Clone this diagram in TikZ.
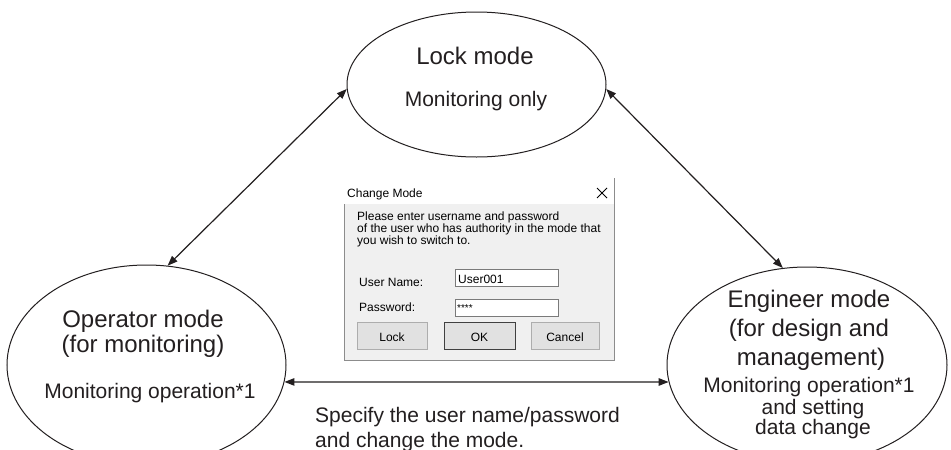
\documentclass[tikz,border=0pt]{standalone}
\usepackage{fontspec}
\setmainfont{Liberation Sans}
\usetikzlibrary{shapes.geometric,arrows.meta}
\definecolor{txt}{HTML}{231F20}
\definecolor{dlgbg}{HTML}{F0F0F0}
\definecolor{dlgborder}{HTML}{8C8C8C}
\definecolor{btnfill}{HTML}{E1E1E1}
\definecolor{btnborder}{HTML}{ADADAD}
\definecolor{boxborder}{HTML}{7A7A7A}
\begin{document}
\begin{tikzpicture}[x=1pt,y=-1pt,
  mode/.style={draw=txt, line width=1pt, ellipse, inner sep=0pt},
  big/.style={anchor=base, text=txt, inner sep=0pt, font=\fontsize{24}{28}\selectfont},
  small/.style={anchor=base, text=txt, inner sep=0pt, font=\fontsize{21}{24}\selectfont},
  note/.style={anchor=base west, text=txt, inner sep=0pt, font=\fontsize{21}{24}\selectfont},
  link/.style={draw=txt, line width=1.2pt, {Triangle[length=10pt,width=7.5pt]}-{Triangle[length=10pt,width=7.5pt]}},
  dlg/.style={anchor=base west, inner sep=0pt, font=\fontsize{12}{13}\selectfont},
  btnlabel/.style={anchor=base, inner sep=0pt, font=\fontsize{12}{13}\selectfont},
  btn/.style={draw=btnborder, fill=btnfill, line width=0.8pt},
  field/.style={draw=boxborder, fill=white, line width=0.8pt},
]
\useasboundingbox (0,0) rectangle (951,450);
\clip (0,0) rectangle (951,450);
\fill[white] (0,0) rectangle (951,450);

% mode ellipses
\node[mode, minimum width=259pt, minimum height=145pt] (lock) at (476.5,84.5) {};
\node[mode, minimum width=279pt, minimum height=200pt] (op) at (146.5,365) {};
\node[mode, minimum width=280pt, minimum height=196pt] (eng) at (807,365) {};

% connectors
\draw[link] (lock.182.4) -- (op.78);
\draw[link] (lock.358) -- (eng.104);
\draw[link] (op.-7.5) -- (eng.187.5);

% ellipse texts
\node[big]   (lockT) at (475,64)  {Lock mode};
\node[small] (lockD) at (476,106) {Monitoring only};

\node[big]   (opT1) at (143,327) {Operator mode};
\node[big]   (opT2) at (143,352) {(for monitoring)};
\node[small] (opD)  at (150,398) {Monitoring operation*1};

\node[big]   (engT1) at (809,307) {Engineer mode};
\node[big]   (engT2) at (809,336) {(for design and};
\node[big]   (engT3) at (811,365) {management)};
\node[small] (engD1) at (809,392) {Monitoring operation*1};
\node[small] (engD2) at (813,414) {and setting};
\node[small] (engD3) at (813,434) {data change};

% bottom label
\node[note] (spec1) at (315,422) {Specify the user name/password};
\node[note] (spec2) at (315,447) {and change the mode.};

% dialog
\draw[draw=dlgborder, fill=dlgbg, line width=0.8pt] (344,178) rectangle (614,360);
\fill[white] (344.4,178.4) rectangle (613.6,204);
\node[dlg] (dTitle) at (347,197) {Change Mode};
\draw[line width=0.8pt] (597,188) -- (607,198) (597,198) -- (607,188);
\node[dlg] (dL1) at (357,220) {Please enter username and password};
\node[dlg] (dL2) at (357,232) {of the user who has authority in the mode that};
\node[dlg] (dL3) at (357,244) {you wish to switch to.};
\node[dlg] (dUser) at (359,286) {User Name:};
\node[dlg] (dPass) at (359,311) {Password:};
\draw[field] (455,269) rectangle (558,286);
\draw[field] (455,299) rectangle (558,316);
\node[dlg] (dUserV) at (458,283) {User001};
\node[dlg, font=\fontsize{10}{11}\selectfont] (dPassV) at (457,311) {****};
\draw[btn] (357,322) rectangle (427,349);
\draw[btn, draw=black!75, line width=1pt] (444,322) rectangle (515,349);
\draw[btn] (531,322) rectangle (599,349);
\node[btnlabel] (bLock)   at (392,341) {Lock};
\node[btnlabel] (bOK)     at (479.5,341) {OK};
\node[btnlabel] (bCancel) at (565,341) {Cancel};
\end{tikzpicture}
\end{document}
